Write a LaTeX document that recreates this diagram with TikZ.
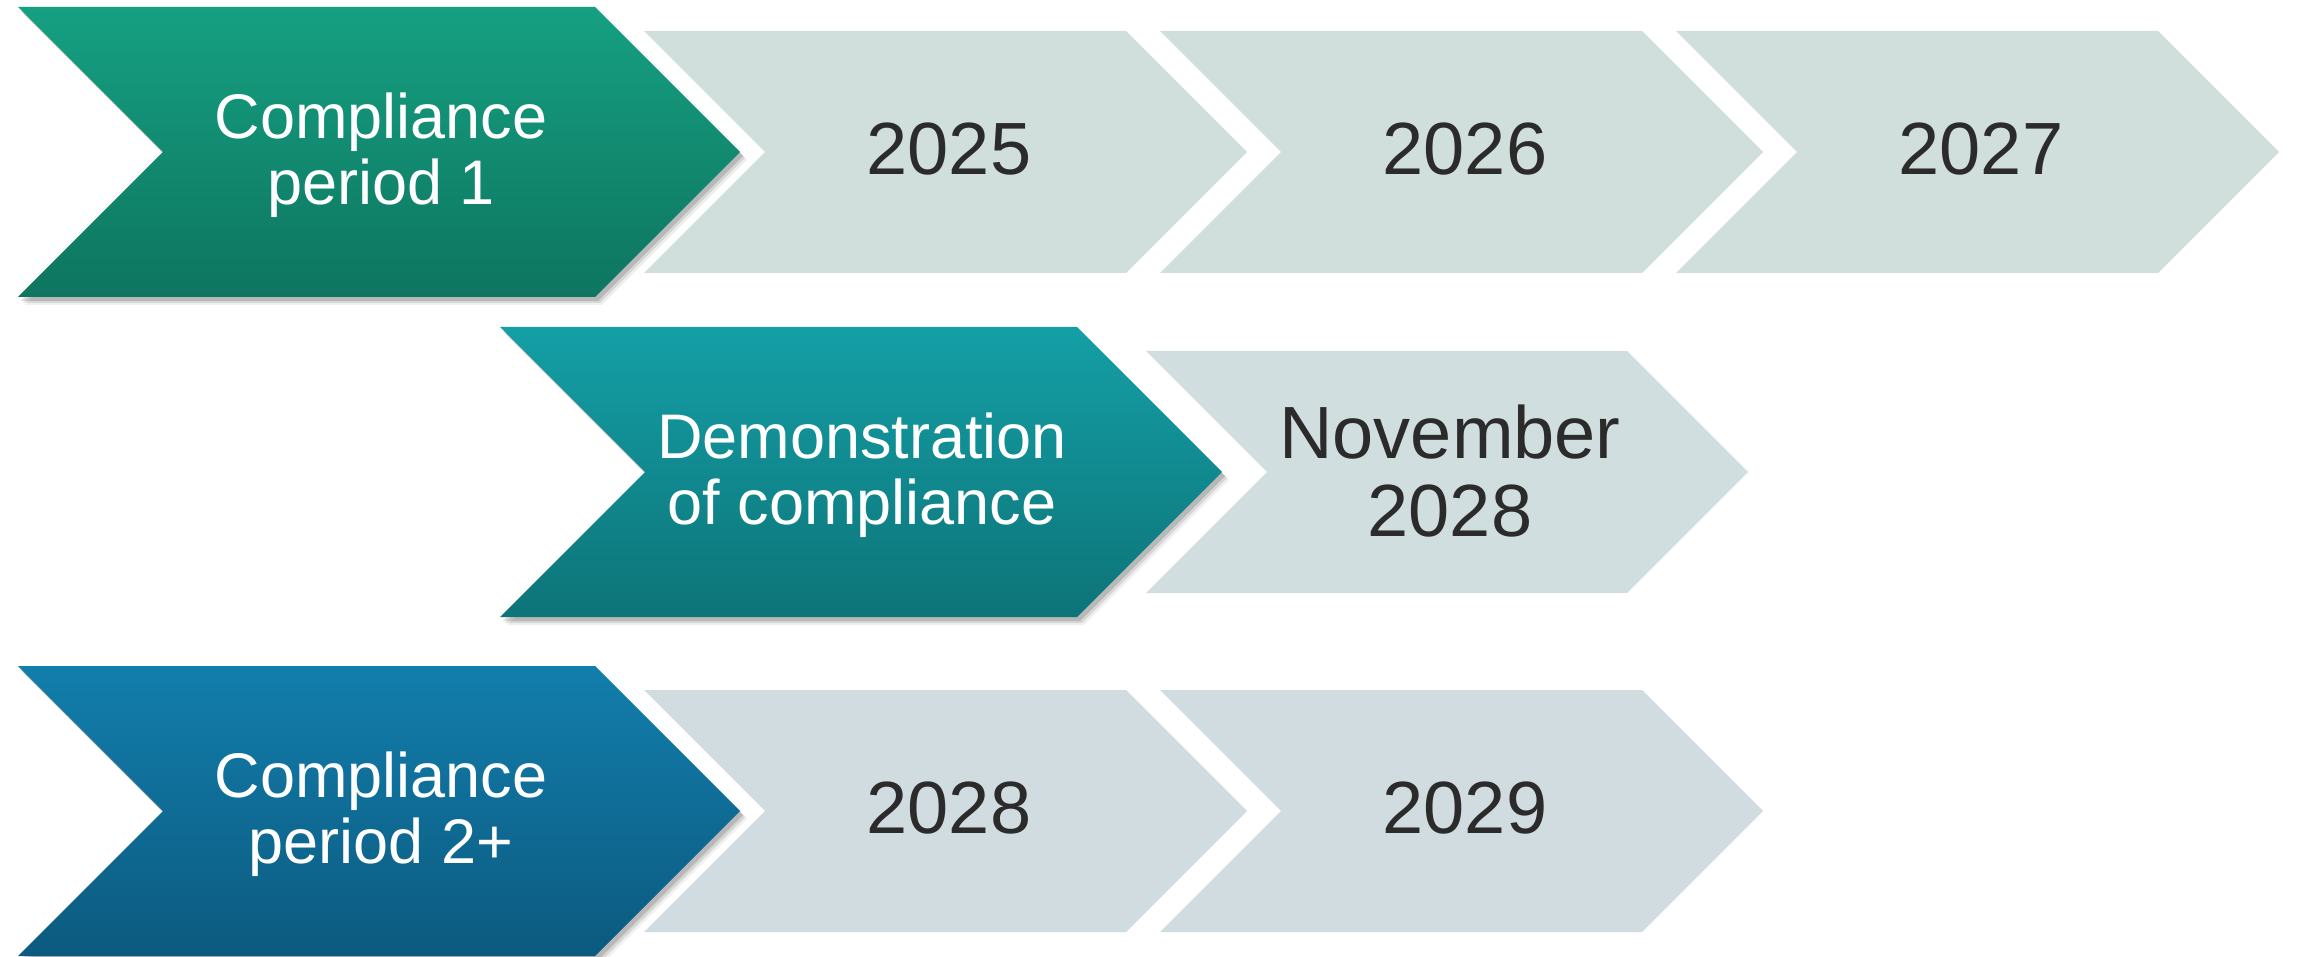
\documentclass[tikz,border=0pt]{standalone}
\usepackage{fontspec}
\setmainfont{Liberation Sans}

\definecolor{greenTop}{HTML}{15A081}
\definecolor{greenBot}{HTML}{0E7560}
\definecolor{tealTop}{HTML}{149FA6}
\definecolor{tealBot}{HTML}{0D7478}
\definecolor{blueTop}{HTML}{127EAC}
\definecolor{blueBot}{HTML}{0C5A7F}
\definecolor{paleGreen}{HTML}{D0DFDC}
\definecolor{paleTeal}{HTML}{D1DEE0}
\definecolor{paleBlue}{HTML}{D1DCE1}
\definecolor{yearText}{HTML}{2B2B2B}

% chevron: left edge x, middle y, total width, half height, path style
\newcommand{\chevronpath}[5]{%
  \path[#5] (#1,#2-#4) -- ++(#3-#4,0) -- ++(#4,#4) -- ++(-#4,#4)
    -- ++(-#3+#4,0) -- ++(#4,-#4) -- cycle;}
% coloured chevron with a soft drop shadow
\newcommand{\phasechevron}[5]{%
  \chevronpath{#1}{#2}{#3}{#4}{fill=black, opacity=0.06, shift={(7,8)}}
  \chevronpath{#1}{#2}{#3}{#4}{fill=black, opacity=0.10, shift={(5,6)}}
  \chevronpath{#1}{#2}{#3}{#4}{fill=black, opacity=0.14, shift={(3,4)}}
  \chevronpath{#1}{#2}{#3}{#4}{#5}}

\begin{document}
\begin{tikzpicture}[x=1pt, y=-1pt,
  phasetext/.style={text=white, align=center, inner sep=0pt,
    font=\fontsize{63}{66}\selectfont},
  yeartext/.style={text=yearText, align=center, inner sep=0pt,
    font=\fontsize{74}{78}\selectfont},
  greenfill/.style={top color=greenTop, bottom color=greenBot},
  tealfill/.style={top color=tealTop, bottom color=tealBot},
  bluefill/.style={top color=blueTop, bottom color=blueBot}]
\useasboundingbox[fill=white] (0,0) rectangle (2300,957);

% row 1: compliance period 1
\chevronpath{644}{152}{603}{121}{fill=paleGreen}
\chevronpath{1160}{152}{603}{121}{fill=paleGreen}
\chevronpath{1676}{152}{603}{121}{fill=paleGreen}
\phasechevron{18}{152}{722}{145}{greenfill}
\node[phasetext] (cp1) at (381,155) {Compliance\\period 1};
\node[yeartext] (y2025) at (949,149) {2025};
\node[yeartext] (y2026) at (1465,149) {2026};
\node[yeartext] (y2027) at (1981,149) {2027};

% row 2: demonstration of compliance
\chevronpath{1146}{472}{602}{121}{fill=paleTeal}
\phasechevron{500}{472}{722}{145}{tealfill}
\node[phasetext] (demo) at (862,475) {Demonstration\\of compliance};
\node[yeartext] (nov) at (1450,471) {November\\2028};

% row 3: compliance period 2+
\chevronpath{644}{811}{603}{121}{fill=paleBlue}
\chevronpath{1160}{811}{603}{121}{fill=paleBlue}
\phasechevron{18}{811}{722}{145}{bluefill}
\node[phasetext] (cp2) at (381,814) {Compliance\\period 2+};
\node[yeartext] (y2028) at (949,808) {2028};
\node[yeartext] (y2029) at (1465,808) {2029};
\end{tikzpicture}
\end{document}
